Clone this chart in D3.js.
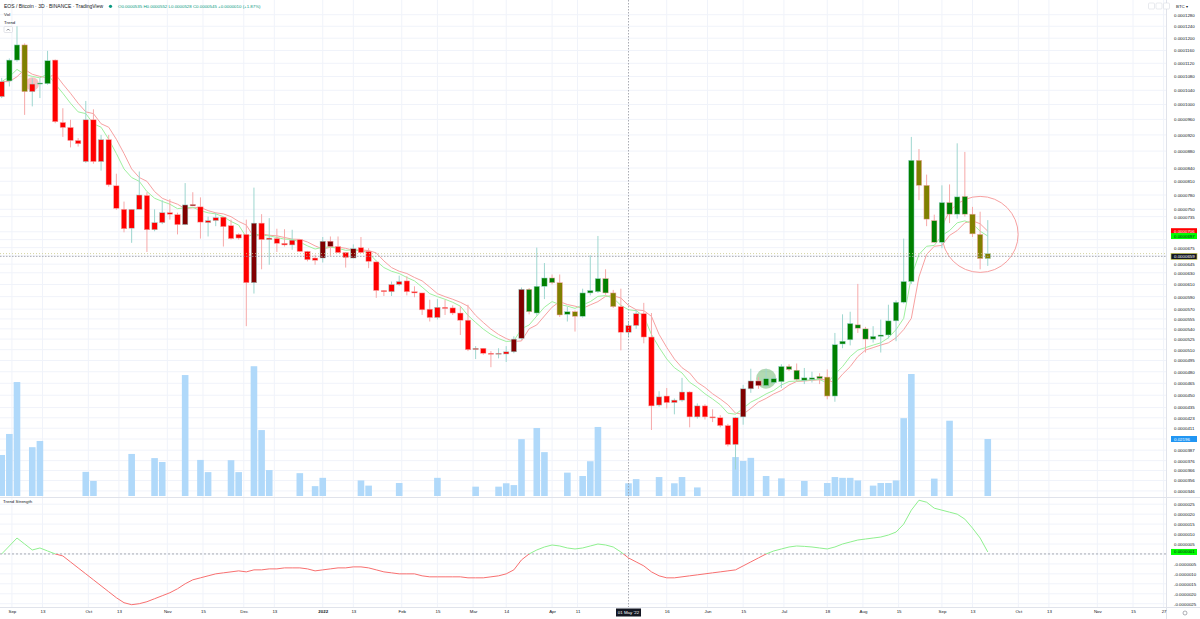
<!DOCTYPE html>
<html>
<head>
<meta charset="utf-8">
<script src="https://cdn.jsdelivr.net/npm/d3@7"></script>
<style>
  body { margin: 0; background: #fff; }
  svg text { font-family: "Liberation Sans", Arial, sans-serif; }
</style>
</head>
<body>
<svg id="chart" width="1200" height="619"></svg>
<script>
// ---- data (prices in satoshi, 1e-8 BTC) ----
var firstBar = new Date(2021, 7, 28);   // first 3D bar
var opens = [10220,10670,11300,11780,10360,10580,10590,11300,9520,9390,
  9060,8550,9590,8550,9080,8000,7500,7120,7500,7790,
  7090,7230,7430,7390,7190,7600,7550,7230,7270,7340,
  7170,7000,7000,6130,7220,6900,6920,6830,6800,6900,
  6680,6560,6560,6870,6770,6660,6560,6750,6680,6490,
  6000,5980,6100,6160,5980,5960,5700,5570,5730,5720,
  5640,5530,5100,5120,5050,5040,5040,5070,5260,6020,
  5640,6070,6210,6130,5620,5660,5590,5960,5980,6200,
  5960,5740,5350,5450,5630,5280,4380,4490,4410,4440,
  4540,4240,4370,4240,4230,4140,3930,4240,4580,4680,
  4620,4660,4670,4870,4820,4690,4700,4740,4730,4490,
  5180,5240,5460,5400,5250,5290,5310,5520,5810,6150,
  8580,8010,7270,6850,7640,7400,7770,7400,7000,6550];
var highs = [10760,11350,12400,11830,10750,10750,11590,11320,9900,9590,
  9120,10100,9870,9200,9200,8270,7660,7500,8320,7860,
  7500,7690,7710,7430,8060,7860,7750,7350,7430,7340,
  7290,7020,7290,7960,7400,7320,7110,7100,7090,6900,
  6690,6620,6950,6960,6960,6660,6810,6950,6740,6500,
  6000,6150,6250,6240,6070,5960,5850,5860,5850,5760,
  5750,5770,5150,5120,5080,5120,5150,5290,6050,6040,
  6750,6470,6270,6270,5740,5680,6030,6610,6970,6360,
  6010,6030,5520,5690,5800,5640,4550,4590,4460,4720,
  4550,4400,4390,4330,4260,4160,4240,4630,4840,4730,
  4840,4740,4900,4900,4910,4850,4800,4780,4830,5340,
  5620,5660,6110,5430,5440,5540,5770,5840,6920,9150,
  8850,8250,7390,8010,8030,8990,8780,7550,7450,7280];
var lows = [10180,10510,11250,9720,9950,10180,10560,9500,9150,8890,
  8910,8520,8500,8340,7980,7490,7040,6840,7500,6670,
  7060,7200,7290,7000,7180,7570,6920,6960,7160,6770,
  6900,6900,5440,5950,6360,6440,6670,6770,6710,6670,
  6500,6440,6480,6600,6650,6390,6550,6650,6380,5880,
  5910,5910,6080,5920,5890,5610,5510,5540,5610,5610,
  5310,5080,4970,5030,4860,4980,4930,5050,5240,5620,
  5600,5860,6100,5580,5510,5360,5570,5920,5960,5930,
  5720,5090,5280,5400,5190,4090,4360,4340,4270,4420,
  4120,4220,4210,4180,4120,3910,3670,4150,4530,4580,
  4600,4640,4590,4810,4680,4640,4660,4640,4450,4420,
  5120,5160,5340,5060,5200,5060,5260,5220,5790,6110,
  7690,7160,6840,6740,7220,7310,7350,6950,6360,6420];
var closes = [10650,11300,11780,10360,10580,10610,11280,9540,9390,9060,
  8980,9590,8550,9080,8020,7520,7110,7500,7800,7090,
  7230,7430,7400,7190,7590,7570,7240,7270,7330,7150,
  6920,6930,6130,7220,6900,6930,6830,6800,6890,6680,
  6530,6520,6870,6770,6660,6570,6730,6660,6500,6000,
  5980,6100,6150,5980,5960,5690,5570,5730,5710,5640,
  5530,5100,5120,5050,5040,5050,5070,5250,6020,5660,
  6070,6210,6130,5610,5660,5590,5960,6000,6200,5960,
  5740,5350,5450,5630,5280,4370,4480,4410,4440,4540,
  4240,4370,4240,4230,4140,3930,4230,4580,4680,4620,
  4710,4710,4870,4830,4700,4720,4720,4710,4490,5170,
  5220,5480,5410,5250,5290,5310,5520,5810,6150,8580,
  8010,7300,6850,7640,7400,7760,7400,7010,6550,6640];
// trend state of each bar: G up, O up-weakening, R down, M down-weakening
var trendStates = ("RGGORGGRRR" + "RRRRRRRRRR" + "RRRRMMRRRR" + "RRRMRRRRRR" +
  "RRMMRRMRRR" + "RRRRRRRRRR" + "RRRRRRRMMG" + "GGGOGOGGGG" + "ORRRRRRRRR" +
  "RRRRRRRMMM" + "GGGGGGGGOG" + "GGGGGGGGGG" + "OOGGGGGOOO").split("");
var volumes = [0.0158,0.0239,0.0439,0,0.0188,0.0212,0,0,0,0,
  0,0.0093,0.0058,0,0,0,0,0.0162,0,0,
  0.0146,0.0131,0,0,0.0466,0,0.0139,0.0092,0,0,
  0.0138,0.0092,0,0.0500,0.0254,0.0100,0,0,0,0.0088,
  0,0.0038,0.0070,0,0,0,0,0.0060,0.0040,0,
  0,0,0.0050,0,0,0,0,0.0070,0,0,
  0,0,0.0036,0,0,0.0036,0.0049,0.0042,0.0219,0,
  0.0262,0.0169,0,0,0.0090,0,0.0077,0.0134,0.0266,0,
  0,0,0.0049,0.0065,0,0,0.0073,0,0.0049,0.0073,
  0,0.0033,0,0,0,0,0.0150,0.0135,0.0147,0,
  0.0077,0,0.0068,0,0,0.0058,0,0,0.0050,0.0073,
  0.0070,0.0070,0.0060,0,0.0040,0.0050,0.0050,0.0060,0.0300,0.0470,
  0,0,0.0067,0,0.0290,0,0,0,0,0.02196];
// Trend Strength pane (satoshi)
var trendStrength = [0,40,80,50,20,30,15,0,-10,-40,
  -70,-100,-130,-160,-190,-220,-245,-255,-250,-240,
  -225,-210,-195,-175,-150,-130,-120,-110,-100,-95,
  -90,-85,-90,-80,-80,-75,-75,-70,-70,-70,
  -75,-85,-80,-75,-70,-70,-65,-65,-70,-80,
  -90,-95,-100,-100,-100,-110,-115,-115,-115,-115,
  -115,-120,-120,-120,-115,-110,-100,-80,-30,0,
  20,35,45,40,30,25,30,40,50,45,
  35,10,-20,-40,-60,-90,-110,-120,-120,-115,
  -110,-105,-100,-95,-90,-85,-80,-60,-40,-20,
  0,15,25,35,40,38,35,30,25,35,
  50,60,70,75,80,85,95,110,150,220,
  270,260,230,220,210,200,175,130,80,10];

var priceTicks = [12800,12400,12000,11600,11200,10800,10400,10000,9600,9200,8800,8400,8100,7800,7500,
  7350,7050,6900,6750,6600,6450,6300,6100,5900,5700,5550,5400,5250,5100,4950,4800,4650,4500,4350,
  4230,4110,3990,3870,3760,3660,3560,3460];
var strengthTicks = [250,200,150,100,50,0,-50,-100,-150,-200,-250];
var timeTickDates = ["2021-09-01","2021-09-13","2021-10-01","2021-10-13","2021-11-01","2021-11-15",
  "2021-12-01","2021-12-13","2022-01-01","2022-01-13","2022-02-01","2022-02-15","2022-03-01",
  "2022-03-14","2022-04-01","2022-04-11","2022-05-16","2022-06-01","2022-06-15","2022-07-01",
  "2022-07-18","2022-08-01","2022-08-15","2022-09-01","2022-09-13","2022-10-01","2022-10-13",
  "2022-11-01","2022-11-15","2022-11-27"];
var timeTickLabels = ["Sep","13","Oct","13","Nov","15","Dec","13","2022","13","Feb","15","Mar",
  "14","Apr","11","16","Jun","15","Jul","18","Aug","15","Sep","13","Oct","13","Nov","15","27"];

var markerBars = [4, 100, 128];          // highlighted bars
var crosshairBar = 82;                   // 01 May '22
var crosshairPrice = 6590;
var emaLength = 8;

// ---- layout ----
var svg = d3.select("#chart");
var paneRight = 1166, priceBottom = 497, strengthBottom = 607;
var barStep = 7.644;
var fontSize = 4.4;
var ink = "#131722";
var gridColor = "#f0f3fa";
var stateColor = { G: "#008000", O: "#808000", R: "#ff0000", M: "#800000" };
var upWick = "#9ed6cf", downWick = "#f6a9a9";

var dates = closes.map(function(_, i) { return d3.timeDay.offset(firstBar, 3 * i); });
var x = d3.scaleTime()
  .domain([dates[0], dates[dates.length - 1]])
  .range([1.7, 1.7 + (dates.length - 1) * barStep]);
var y = d3.scaleLog().domain([12800, 3460]).range([14.7, 490.9]);
var yVol = d3.scaleLinear().domain([0, 0.02196]).range([496, 439]);
var yTS = d3.scaleLinear().domain([-250, 250]).range([603.7, 504.2]);
var parseDay = d3.timeParse("%Y-%m-%d");
var fmt = function(v) { return (v / 1e8).toFixed(7); };

// EMA of closes and its previous-bar copy
var fast = [];
closes.forEach(function(c, i) {
  fast.push(i === 0 ? c : fast[i - 1] + 2 / (emaLength + 1) * (c - fast[i - 1]));
});
var slow = fast.map(function(v, i) { return i === 0 ? v : fast[i - 1]; });
var last = closes.length - 1;

// value labels that sit on the right axis (they hide the ticks under them)
var valueLabels = [
  { y: y(slow[last]), text: fmt(slow[last]), bg: "#ff0000", fg: "#fff" },
  { y: y(fast[last]), text: fmt(fast[last]), bg: "#00ff00", fg: ink },
  { y: y(crosshairPrice), text: fmt(crosshairPrice), bg: "#131722", fg: "#fff", border: "#c9c94a" },
  { y: yVol(volumes[last]), text: volumes[last].toFixed(5), bg: "#2196f3", fg: "#fff" },
  { y: yTS(trendStrength[last]), text: fmt(trendStrength[last]), bg: "#00ff00", fg: ink }
];
function hidden(py) {
  return valueLabels.some(function(l) { return Math.abs(l.y - py) < 5.5; }) ||
    Math.abs(y(closes[last]) - py) < 4;
}

svg.append("rect").attr("width", 1200).attr("height", 619).attr("fill", "#fff");

// grid
var grid = svg.append("g");
timeTickDates.forEach(function(d) {
  var gx = x(parseDay(d));
  grid.append("line").attr("x1", gx).attr("x2", gx).attr("y1", 0).attr("y2", strengthBottom)
    .attr("stroke", gridColor).attr("stroke-width", 1);
});
priceTicks.forEach(function(p) {
  grid.append("line").attr("x1", 0).attr("x2", paneRight).attr("y1", y(p)).attr("y2", y(p))
    .attr("stroke", gridColor);
});
strengthTicks.forEach(function(v) {
  grid.append("line").attr("x1", 0).attr("x2", paneRight).attr("y1", yTS(v)).attr("y2", yTS(v))
    .attr("stroke", gridColor);
});

// volume
svg.append("g").selectAll("rect").data(volumes).enter().append("rect")
  .attr("x", function(d, i) { return x(dates[i]) - 3.3; })
  .attr("width", 6.6)
  .attr("y", function(d) { return yVol(d); })
  .attr("height", function(d) { return 496 - yVol(d); })
  .attr("fill", "#b0d9fa");

// marker circles
var markers = svg.append("g");
markers.append("circle").attr("cx", x(dates[markerBars[0]])).attr("cy", y(closes[markerBars[0]]))
  .attr("r", 6.7).attr("fill", "rgba(240,80,80,0.35)");
markers.append("circle").attr("cx", x(dates[markerBars[1]])).attr("cy", y(closes[markerBars[1]]))
  .attr("r", 10).attr("fill", "rgba(0,128,0,0.3)");
markers.append("circle").attr("cx", x(dates[markerBars[2]])).attr("cy", y(opens[markerBars[2]]))
  .attr("r", 38).attr("fill", "none").attr("stroke", "#f7a0a0").attr("stroke-width", 1);

// moving averages
var maLine = d3.line().x(function(d, i) { return x(dates[i]); }).y(function(d) { return y(d); });
svg.append("path").datum(slow).attr("d", maLine).attr("fill", "none")
  .attr("stroke", "#f7a1a1").attr("stroke-width", 1);
svg.append("path").datum(fast).attr("d", maLine).attr("fill", "none")
  .attr("stroke", "#9ff09f").attr("stroke-width", 1);

// candles
var candles = svg.append("g").selectAll("g").data(closes).enter().append("g");
candles.append("line")
  .attr("x1", function(d, i) { return x(dates[i]); })
  .attr("x2", function(d, i) { return x(dates[i]); })
  .attr("y1", function(d, i) { return y(highs[i]); })
  .attr("y2", function(d, i) { return y(lows[i]); })
  .attr("stroke", function(d, i) { return closes[i] >= opens[i] ? upWick : downWick; })
  .attr("stroke-width", 1);
candles.append("rect")
  .attr("x", function(d, i) { return x(dates[i]) - 2.7; })
  .attr("width", 5.4)
  .attr("y", function(d, i) { return y(Math.max(opens[i], closes[i])); })
  .attr("height", function(d, i) {
    return Math.max(1, y(Math.min(opens[i], closes[i])) - y(Math.max(opens[i], closes[i])));
  })
  .attr("fill", function(d, i) { return stateColor[trendStates[i]]; })
  .attr("stroke", function(d, i) { return closes[i] >= opens[i] ? upWick : downWick; })
  .attr("stroke-width", 0.5);

// last price line and crosshair
svg.append("line").attr("x1", 0).attr("x2", paneRight).attr("y1", y(closes[last])).attr("y2", y(closes[last]))
  .attr("stroke", "#c8c88a").attr("stroke-width", 0.8).attr("stroke-dasharray", "1,2");
svg.append("line").attr("x1", 0).attr("x2", paneRight).attr("y1", y(crosshairPrice)).attr("y2", y(crosshairPrice))
  .attr("stroke", "#9598a1").attr("stroke-width", 0.8).attr("stroke-dasharray", "1.5,1.5");
svg.append("line").attr("x1", x(dates[crosshairBar])).attr("x2", x(dates[crosshairBar]))
  .attr("y1", 0).attr("y2", strengthBottom)
  .attr("stroke", "#9598a1").attr("stroke-width", 0.8).attr("stroke-dasharray", "1.5,1.5");

// trend strength pane
svg.append("defs").call(function(defs) {
  defs.append("clipPath").attr("id", "above").append("rect")
    .attr("x", 0).attr("y", priceBottom).attr("width", paneRight).attr("height", yTS(0) - priceBottom);
  defs.append("clipPath").attr("id", "below").append("rect")
    .attr("x", 0).attr("y", yTS(0)).attr("width", paneRight).attr("height", strengthBottom - yTS(0));
});
svg.append("line").attr("x1", 0).attr("x2", paneRight).attr("y1", yTS(0)).attr("y2", yTS(0))
  .attr("stroke", "#9598a1").attr("stroke-width", 0.8).attr("stroke-dasharray", "2,2");
var tsLine = d3.line().x(function(d, i) { return x(dates[i]); }).y(function(d) { return yTS(d); });
svg.append("path").datum(trendStrength).attr("d", tsLine).attr("fill", "none")
  .attr("stroke", "#8ff08f").attr("stroke-width", 1).attr("clip-path", "url(#above)");
svg.append("path").datum(trendStrength).attr("d", tsLine).attr("fill", "none")
  .attr("stroke", "#f87070").attr("stroke-width", 1).attr("clip-path", "url(#below)");

// pane borders
svg.append("line").attr("x1", 0).attr("x2", 1200).attr("y1", priceBottom + 0.5).attr("y2", priceBottom + 0.5)
  .attr("stroke", "#e0e3eb");
svg.append("line").attr("x1", 0).attr("x2", 1200).attr("y1", strengthBottom + 0.5).attr("y2", strengthBottom + 0.5)
  .attr("stroke", "#e0e3eb");
svg.append("line").attr("x1", paneRight + 0.5).attr("x2", paneRight + 0.5).attr("y1", 0).attr("y2", 619)
  .attr("stroke", "#e0e3eb");

// price axis (ticks covered by value labels are left out)
var pAxis = svg.append("g").attr("transform", "translate(1174,0)")
  .call(d3.axisRight(y).tickValues(priceTicks.filter(function(p) { return !hidden(y(p)); }))
    .tickFormat(fmt).tickSize(0).tickPadding(0));
var sAxis = svg.append("g").attr("transform", "translate(1174,0)")
  .call(d3.axisRight(yTS).tickValues(strengthTicks.filter(function(v) { return !hidden(yTS(v)); }))
    .tickFormat(fmt).tickSize(0).tickPadding(0));
[pAxis, sAxis].forEach(function(a) {
  a.select(".domain").remove();
  a.selectAll("text").attr("font-size", fontSize).attr("fill", ink);
});

// time axis
var tAxis = svg.append("g").attr("transform", "translate(0,610)")
  .call(d3.axisBottom(x).tickValues(timeTickDates.map(parseDay))
    .tickFormat(function(d, i) { return timeTickLabels[i]; }).tickSize(0).tickPadding(0));
tAxis.select(".domain").remove();
tAxis.selectAll("text").attr("font-size", fontSize).attr("fill", ink)
  .attr("font-weight", function(d, i) { return timeTickLabels[i] === "2022" ? "bold" : "normal"; });

// axis value labels
valueLabels.forEach(function(l) {
  var g = svg.append("g");
  g.append("rect").attr("x", 1171).attr("y", l.y - 3).attr("width", 26).attr("height", 6)
    .attr("fill", l.bg).attr("stroke", l.border || "none").attr("stroke-width", 0.7);
  g.append("text").attr("x", 1174).attr("y", l.y + 1.5).attr("font-size", fontSize).attr("fill", l.fg).text(l.text);
});

// crosshair time label
var cx = x(dates[crosshairBar]);
svg.append("rect").attr("x", cx - 12.5).attr("y", 608.5).attr("width", 25).attr("height", 8).attr("fill", "#131722");
svg.append("text").attr("x", cx).attr("y", 614).attr("text-anchor", "middle").attr("font-size", fontSize)
  .attr("fill", "#fff").text(d3.timeFormat("%d %b '%y")(dates[crosshairBar]));

// legend / header
var hdr = svg.append("g");
hdr.append("text").attr("x", 4).attr("y", 8).attr("font-size", 5).attr("fill", ink)
  .text("EOS / Bitcoin · 3D · BINANCE · TradingView");
hdr.append("circle").attr("cx", 110.5).attr("cy", 6.3).attr("r", 1.6).attr("fill", "#089981");
var cb = crosshairBar;
var chg = closes[cb] - closes[cb - 1];
hdr.append("text").attr("x", 118).attr("y", 8).attr("font-size", fontSize).attr("fill", "#089981")
  .text("O" + fmt(opens[cb]) + "  H" + fmt(highs[cb]) + "  L" + fmt(lows[cb]) + "  C" + fmt(closes[cb]) +
        "  +" + fmt(chg) + " (+" + (chg / closes[cb - 1] * 100).toFixed(2) + "%)");
hdr.append("text").attr("x", 4).attr("y", 16).attr("font-size", fontSize).attr("fill", ink).text("Vol");
hdr.append("text").attr("x", 4).attr("y", 23.5).attr("font-size", fontSize).attr("fill", ink).text("Trend");
hdr.append("rect").attr("x", 4).attr("y", 26.5).attr("width", 8.5).attr("height", 6).attr("rx", 1)
  .attr("fill", "#fff").attr("stroke", "#d1d4dc").attr("stroke-width", 0.6);
hdr.append("path").attr("d", "M6.8,30.5 L8.25,29 L9.7,30.5").attr("fill", "none").attr("stroke", ink).attr("stroke-width", 0.5);
hdr.append("text").attr("x", 3).attr("y", 502.5).attr("font-size", fontSize).attr("fill", ink).text("Trend Strength");

// top-right controls
var ctl = svg.append("g");
[1148.5, 1156, 1163.5].forEach(function(bx) {
  ctl.append("rect").attr("x", bx).attr("y", 3).attr("width", 6).attr("height", 6).attr("rx", 1)
    .attr("fill", "#fff").attr("stroke", "#d1d4dc").attr("stroke-width", 0.5);
});
ctl.append("text").attr("x", 1176).attr("y", 7.5).attr("font-size", fontSize).attr("fill", ink).text("BTC ▾");
svg.append("circle").attr("cx", 1185).attr("cy", 613).attr("r", 2).attr("fill", "none")
  .attr("stroke", "#787b86").attr("stroke-width", 0.6);
</script>
</body>
</html>
